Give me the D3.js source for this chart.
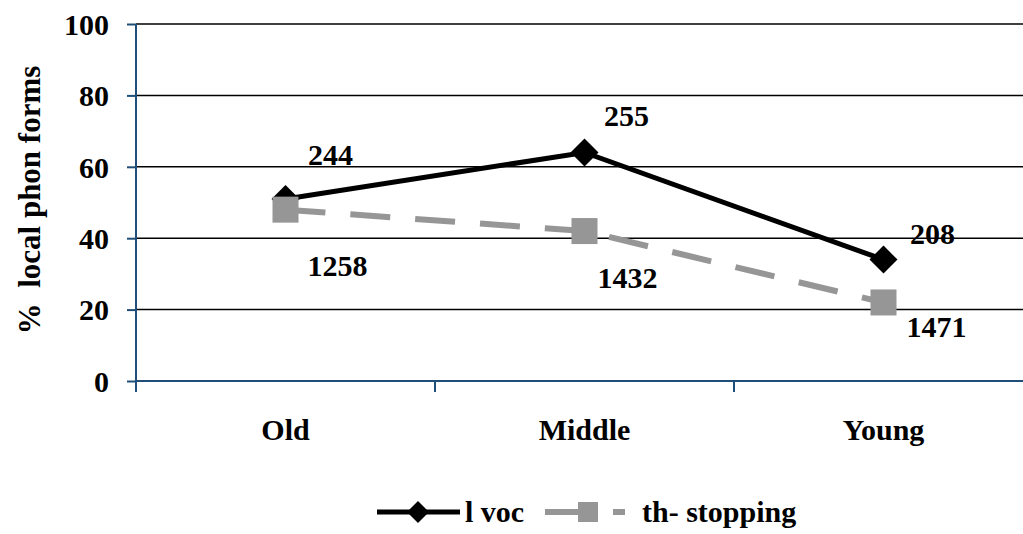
<!DOCTYPE html>
<html><head><meta charset="utf-8">
<script src="https://cdn.jsdelivr.net/npm/d3@7"></script>
<style>body{margin:0;background:#fff}svg{display:block}</style>
</head><body><svg id="c" width="1023" height="534"></svg>
<script>
const categories = ["Old", "Middle", "Young"];
const lvoc = [51, 64, 34];
const thStopping = [48, 42, 22];
const lvocCounts = ["244", "255", "208"];
const thCounts = ["1258", "1432", "1471"];
const yTicks = [0, 20, 40, 60, 80, 100];
const seriesNames = ["l voc", "th- stopping"];
// label placement (layout only)
const lvocLabelOffsets = [[45, -34], [42, -27], [49, -16]];
const thLabelOffsets = [[52, 66], [43, 57], [53, 35]];

(function () {
const svg = d3.select("#c");
const pLeft = 136, pRight = 1033, pTop = 24, pBottom = 381;
const x = d3.scaleBand().domain(categories).range([pLeft, pRight]);
const y = d3.scaleLinear().domain([0, 100]).range([pBottom, pTop]);
const axisColor = "#1F4E79";
const fs = 30;
const font = sel => sel.style("font-family", "'Liberation Serif', 'Times New Roman', serif")
  .style("font-weight", "bold").style("fill", "#000").style("white-space", "pre");

// gridlines
svg.append("g").selectAll("line").data(yTicks.filter(d => d > 0)).join("line")
  .attr("x1", pLeft).attr("x2", 1023).attr("y1", d => y(d)).attr("y2", d => y(d))
  .attr("stroke", "#000").attr("stroke-width", 1.5);

// y axis
const yAxis = svg.append("g").attr("transform", `translate(${pLeft},0)`)
  .call(d3.axisLeft(y).tickValues(yTicks).tickSize(9).tickPadding(18));
yAxis.select(".domain").attr("stroke", axisColor).attr("stroke-width", 2).attr("d", `M0,${pTop}V${pBottom + 9}`);
yAxis.selectAll(".tick line").attr("stroke", axisColor).attr("stroke-width", 2);
yAxis.selectAll("text").call(font).style("font-size", fs + "px").attr("dy", "0.34em");

// x axis
const xAxis = svg.append("g").attr("transform", `translate(0,${pBottom})`)
  .call(d3.axisBottom(x).tickSize(0).tickPadding(38));
xAxis.select(".domain").attr("stroke", axisColor).attr("stroke-width", 2).attr("d", `M${pLeft},0H1023`);
xAxis.selectAll("text").call(font).style("font-size", fs + "px");
xAxis.append("g").selectAll("line").data(categories).join("line")
  .attr("x1", d => x(d)).attr("x2", d => x(d)).attr("y1", 0).attr("y2", 11)
  .attr("stroke", axisColor).attr("stroke-width", 2);

// y title
svg.append("text").attr("transform", "translate(40,200) rotate(-90)")
  .attr("text-anchor", "middle").call(font).style("font-size", "31px").text("%  local phon forms");

const cx = d => x(d) + x.bandwidth() / 2;
const line = d3.line().x(d => cx(d.c)).y(d => y(d.v));
const lv = categories.map((c, i) => ({c, v: lvoc[i]}));
const th = categories.map((c, i) => ({c, v: thStopping[i]}));

const gray = "#969696";
svg.append("path").attr("d", line(th)).attr("fill", "none").attr("stroke", gray)
  .attr("stroke-width", 6).attr("stroke-dasharray", "40,25");
svg.append("path").attr("d", line(lv)).attr("fill", "none").attr("stroke", "#000")
  .attr("stroke-width", 5);

const diamond = (px, py, r) => `M${px},${py - r}L${px + r},${py}L${px},${py + r}L${px - r},${py}Z`;
svg.append("g").selectAll("path").data(lv).join("path")
  .attr("d", d => diamond(cx(d.c), y(d.v), 14)).attr("fill", "#000");
svg.append("g").selectAll("rect").data(th).join("rect")
  .attr("x", d => cx(d.c) - 13).attr("y", d => y(d.v) - 13).attr("width", 26).attr("height", 26).attr("fill", gray);

// data labels
svg.append("g").selectAll("text").data(lv).join("text")
  .attr("x", (d, i) => cx(d.c) + lvocLabelOffsets[i][0]).attr("y", (d, i) => y(d.v) + lvocLabelOffsets[i][1])
  .attr("text-anchor", "middle").call(font).style("font-size", fs + "px").text((d, i) => lvocCounts[i]);
svg.append("g").selectAll("text").data(th).join("text")
  .attr("x", (d, i) => cx(d.c) + thLabelOffsets[i][0]).attr("y", (d, i) => y(d.v) + thLabelOffsets[i][1])
  .attr("text-anchor", "middle").call(font).style("font-size", fs + "px").text((d, i) => thCounts[i]);

// legend
const lg = svg.append("g");
const ly = 512;
lg.append("line").attr("x1", 377).attr("x2", 460).attr("y1", ly).attr("y2", ly).attr("stroke", "#000").attr("stroke-width", 5);
lg.append("path").attr("d", diamond(418, ly, 11)).attr("fill", "#000");
lg.append("text").attr("x", 465).attr("y", ly + 10).call(font).style("font-size", fs + "px").text(seriesNames[0]);
lg.append("line").attr("x1", 545).attr("x2", 625).attr("y1", ly).attr("y2", ly).attr("stroke", gray).attr("stroke-width", 6).attr("stroke-dasharray", "53,15,12,100");
lg.append("rect").attr("x", 578).attr("y", ly - 10).attr("width", 20).attr("height", 20).attr("fill", gray);
lg.append("text").attr("x", 642).attr("y", ly + 10).call(font).style("font-size", fs + "px").text(seriesNames[1]);
})();
</script></body></html>
